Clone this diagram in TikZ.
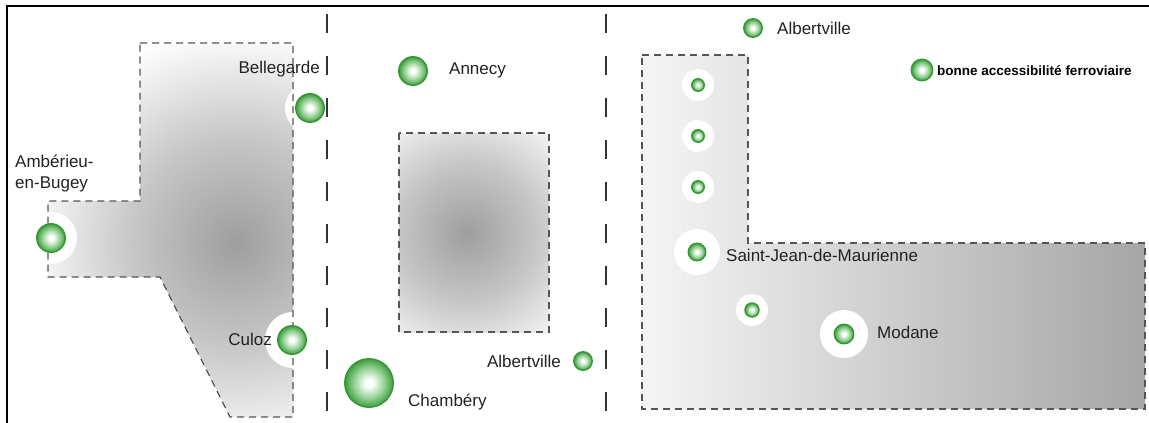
\documentclass[tikz,border=0pt]{standalone}
\usepackage{fontspec}
\setmainfont{Liberation Sans}
\definecolor{ballgreen}{HTML}{3E9E3E}
\definecolor{balllight}{HTML}{9AD49A}
\definecolor{balledge}{HTML}{349634}
\definecolor{regionedge}{HTML}{555555}
\definecolor{txt}{HTML}{222222}
\definecolor{glowcore}{HTML}{9E9E9E}
\definecolor{glowmid}{HTML}{C6C6C6}
\pgfdeclareradialshading{ballshade}{\pgfpointorigin}{color(0bp)=(white); color(4bp)=(white); color(15bp)=(balllight); color(25bp)=(ballgreen); color(50bp)=(ballgreen)}
\pgfdeclareradialshading{grayglow}{\pgfpointorigin}{color(0bp)=(glowcore); color(12bp)=(glowmid); color(25bp)=(white); color(50bp)=(white)}
\tikzset{
  ball/.style={circle, draw=balledge, line width=1.4pt, shade, shading=ballshade, minimum size=#1, inner sep=0pt},
  halo/.style={fill=white},
  regionborder/.style={draw=regionedge, line width=1.3pt, dash pattern=on 7pt off 5pt},
  separator/.style={draw=black!80, line width=2pt, dash pattern=on 19pt off 23pt},
  lbl/.style={inner sep=0pt, text=txt, font=\fontsize{17}{21}\selectfont},
  legendlbl/.style={inner sep=0pt, text=black, font=\fontsize{13.5}{16}\selectfont\bfseries}
}
\begin{document}
\begin{tikzpicture}[x=1pt,y=-1pt]
\useasboundingbox (0,0) rectangle (1149,423);
\fill[white] (0,0) rectangle (1149,423);

% ---- left region ----
\begin{scope}
  \clip (140,43) -- (293,43) -- (293,417) -- (230,417) -- (160,277) -- (48,277) -- (48,201) -- (140,201) -- cycle;
  \shade[shading=grayglow] (236,242) circle (215);
\end{scope}
\fill[halo] (51,238) circle (26);
\fill[halo] (310,108) circle (25);
\fill[halo] (293,340) circle (28);
\draw[regionborder] (140,43) -- (293,43) -- (293,417) -- (230,417) -- (160,277) -- (48,277) -- (48,201) -- (140,201) -- cycle;

% ---- middle region ----
\begin{scope}
  \clip (399,133) rectangle (549,332);
  \shade[shading=grayglow] (467,233) circle (145);
\end{scope}
\draw[regionborder] (399,133) rectangle (549,332);

% ---- right region ----
\shade[left color=black!4, right color=black!35] (642,55) -- (748,55) -- (748,243) -- (1145,243) -- (1145,409) -- (642,409) -- cycle;
\fill[halo] (698,85) circle (16);
\fill[halo] (698,136) circle (16);
\fill[halo] (698,187) circle (16);
\fill[halo] (697,252) circle (23);
\fill[halo] (752,310) circle (16);
\fill[halo] (844,334) circle (24);
\draw[regionborder] (642,55) -- (748,55) -- (748,243) -- (1145,243) -- (1145,409) -- (642,409) -- cycle;

% ---- separators and frame ----
\draw[separator] (327,14) -- (327,412);
\draw[separator] (606,14) -- (606,412);
\draw[line width=2.2pt] (7,423) -- (7,6) -- (1149,6);

% ---- stations ----
\node[ball=28.5] (amb) at (51,238) {};
\node[ball=28.5] (bel) at (310,108) {};
\node[ball=28.5] (cul) at (292,340) {};
\node[ball=28.5] (ann) at (413,71) {};
\node[ball=18.5] (albm) at (583,361) {};
\node[ball=48.5] (cha) at (369,383) {};
\node[ball=18.5] (albt) at (753,28) {};
\node[ball=21.5] (leg) at (922,70) {};
\node[ball=12.5] (s1) at (698,85) {};
\node[ball=12.5] (s2) at (698,136) {};
\node[ball=12.5] (s3) at (698,187) {};
\node[ball=17.5] (sjm) at (697,252) {};
\node[ball=14] (s4) at (752,310) {};
\node[ball=19.5] (mod) at (844,334) {};

% ---- labels ----
\node[lbl, anchor=east] (belT) at (320,69) {Bellegarde};
\node[lbl, anchor=west, align=left] (ambT) at (15,174) {Ambérieu-\\en-Bugey};
\node[lbl, anchor=east] (culT) at (272,339) {Culoz};
\node[lbl, anchor=west] (annT) at (449,70) {Annecy};
\node[lbl, anchor=east] (albmT) at (561,361) {Albertville};
\node[lbl, anchor=west] (chaT) at (408,402) {Chambéry};
\node[lbl, anchor=west] (albtT) at (777,28) {Albertville};
\node[legendlbl, anchor=west] (legT) at (937,71) {bonne accessibilité ferroviaire};
\node[lbl, anchor=west] (sjmT) at (726,255) {Saint-Jean-de-Maurienne};
\node[lbl, anchor=west] (modT) at (877,332) {Modane};
\end{tikzpicture}
\end{document}
